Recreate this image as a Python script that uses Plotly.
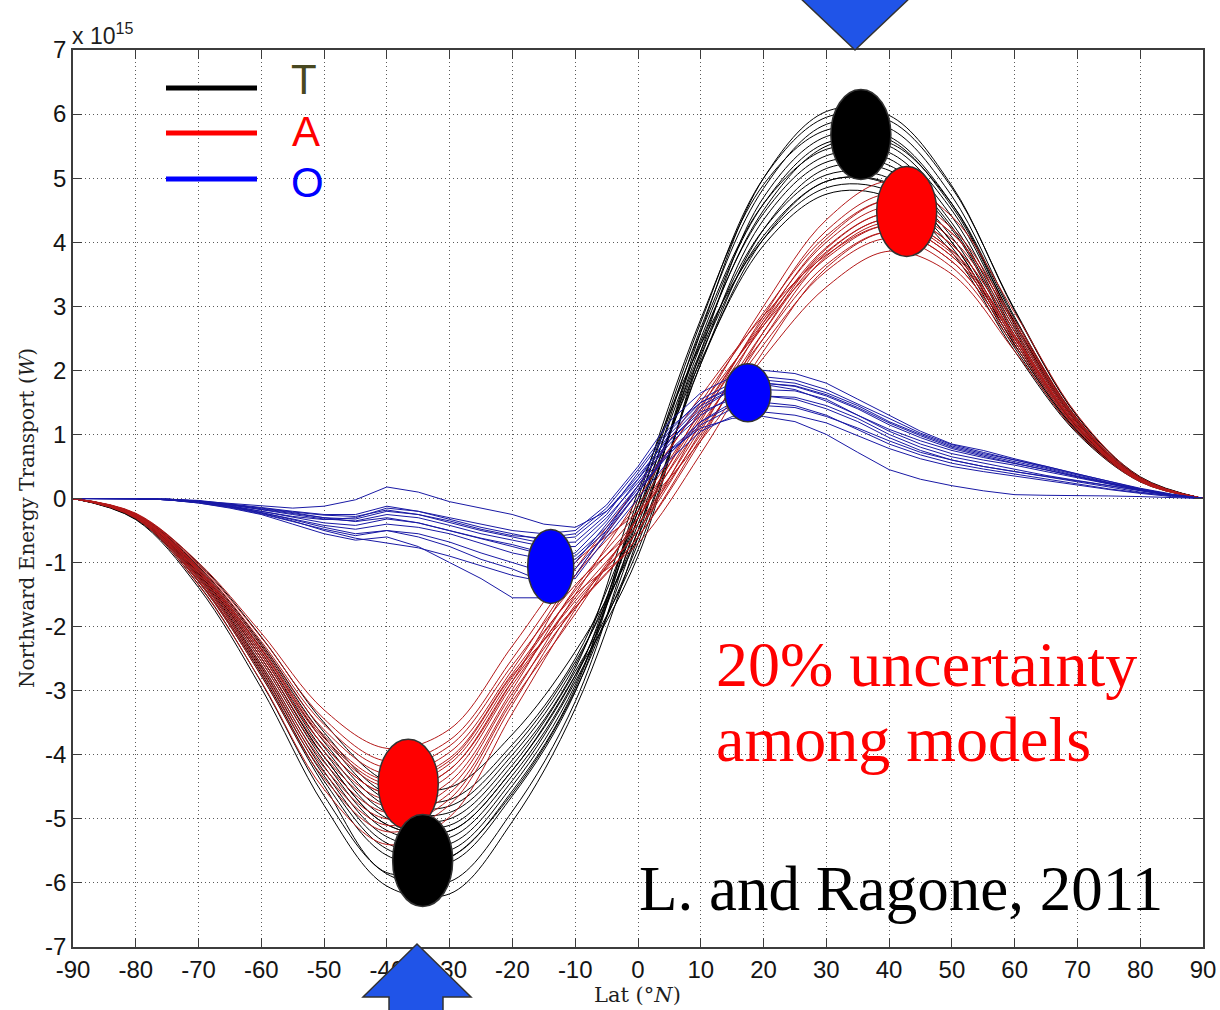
import plotly.graph_objects as go

# Latitude grids (degrees N)
LAT10 = list(range(-90, 91, 10))
LAT5 = list(range(-90, 91, 5))

# Total (T) northward energy transport per model, 1e15 W, sampled every 10 deg
TOTAL = [
    [0, -0.33, -1.39, -2.96, -4.79, -6.05, -6.17, -5.04, -3.28, -0.6, 2.6, 5.0, 6.04, 5.98, 4.88, 2.93, 1.28, 0.34, 0],
    [0, -0.32, -1.34, -2.87, -4.64, -5.86, -5.98, -4.88, -3.17, -0.3, 2.66, 4.84, 5.84, 5.78, 4.72, 2.83, 1.24, 0.32, 0],
    [0, -0.31, -1.30, -2.77, -4.48, -5.84, -5.61, -4.60, -3.0, -0.5, 2.4, 4.5, 5.5, 5.55, 4.6, 2.8, 1.22, 0.31, 0],
    [0, -0.30, -1.25, -2.68, -4.33, -5.47, -5.59, -4.56, -2.96, 0.0, 2.8, 4.9, 5.75, 5.65, 4.6, 2.75, 1.2, 0.32, 0],
    [0, -0.29, -1.23, -2.63, -4.26, -5.38, -5.49, -4.48, -2.91, -0.2, 2.45, 4.45, 5.35, 5.3, 4.3, 2.6, 1.13, 0.3, 0],
    [0, -0.29, -1.21, -2.59, -4.18, -5.28, -5.39, -4.4, -2.86, -0.7, 2.1, 4.2, 5.15, 5.12, 4.2, 2.5, 1.1, 0.29, 0],
    [0, -0.28, -1.19, -2.54, -4.1, -5.18, -5.29, -4.32, -2.81, -0.1, 2.6, 4.6, 5.45, 5.4, 4.4, 2.65, 1.16, 0.3, 0],
    [0, -0.28, -1.17, -2.49, -4.03, -5.09, -5.19, -4.24, -2.76, -0.4, 2.25, 4.1, 4.95, 4.92, 4.0, 2.4, 1.05, 0.28, 0],
    [0, -0.27, -1.14, -2.44, -3.95, -4.99, -5.1, -4.16, -2.7, -0.8, 2.2, 4.35, 5.25, 5.2, 4.24, 2.55, 1.11, 0.29, 0],
    [0, -0.27, -1.12, -2.4, -3.88, -4.9, -5.0, -4.08, -2.65, 0.1, 2.4, 4.05, 4.85, 4.8, 3.92, 2.35, 1.03, 0.27, 0],
    [0, -0.26, -1.1, -2.35, -3.8, -4.8, -4.9, -4.0, -2.6, -0.3, 2.3, 4.2, 5.05, 5.0, 4.08, 2.45, 1.07, 0.28, 0],
    [0, -0.25, -1.08, -2.3, -3.72, -4.7, -4.8, -3.92, -2.55, -0.5, 2.5, 4.6, 5.55, 5.5, 4.5, 2.7, 1.18, 0.31, 0],
    [0, -0.25, -1.06, -2.26, -3.65, -4.61, -4.7, -3.84, -2.5, -0.2, 2.15, 3.95, 4.75, 4.7, 3.84, 2.3, 1.01, 0.26, 0],
    [0, -0.24, -1.01, -2.16, -3.5, -4.42, -4.51, -3.68, -2.39, -0.6, 2.1, 4.05, 4.95, 4.9, 4.0, 2.4, 1.05, 0.28, 0],
    [0, -0.3, -1.28, -2.73, -4.41, -5.57, -5.68, -4.64, -3.02, -0.1, 2.75, 5.0, 5.95, 5.9, 4.85, 2.95, 1.28, 0.33, 0],
    [0, -0.28, -1.17, -2.49, -4.03, -5.09, -5.19, -4.24, -2.76, -0.9, 2.3, 4.7, 5.65, 5.6, 4.56, 2.74, 1.2, 0.31, 0],
]

# Atmospheric (A) transport per model, 1e15 W, every 10 deg
ATMOS = [
    [0, -0.31, -1.35, -2.86, -4.54, -5.4, -4.97, -3.35, -1.73, -0.3, 1.4, 3.0, 4.35, 4.95, 4.4, 2.9, 1.3, 0.33, 0],
    [0, -0.30, -1.3, -2.76, -4.37, -5.2, -4.78, -3.22, -1.66, -0.5, 1.2, 2.85, 4.18, 4.75, 4.22, 2.78, 1.25, 0.31, 0],
    [0, -0.29, -1.25, -2.65, -4.2, -5.0, -4.6, -3.1, -1.5, 0.0, 1.5, 2.9, 4.1, 4.65, 4.14, 2.73, 1.22, 0.31, 0],
    [0, -0.28, -1.23, -2.6, -4.12, -4.9, -4.51, -3.04, -1.7, -0.6, 0.9, 2.6, 3.9, 4.45, 3.96, 2.61, 1.17, 0.29, 0],
    [0, -0.28, -1.2, -2.54, -4.03, -4.8, -4.42, -2.98, -1.4, -0.2, 1.3, 2.8, 4.0, 4.55, 4.05, 2.67, 1.2, 0.3, 0],
    [0, -0.27, -1.18, -2.49, -3.95, -4.7, -4.32, -2.91, -1.55, -0.4, 1.1, 2.6, 3.83, 4.36, 3.87, 2.55, 1.14, 0.29, 0],
    [0, -0.27, -1.15, -2.44, -3.86, -4.6, -4.23, -2.85, -1.2, 0.1, 1.45, 2.7, 3.75, 4.26, 3.78, 2.49, 1.12, 0.28, 0],
    [0, -0.26, -1.13, -2.39, -3.78, -4.5, -4.14, -2.79, -1.44, -0.3, 1.25, 2.7, 3.92, 4.45, 3.96, 2.61, 1.17, 0.29, 0],
    [0, -0.26, -1.1, -2.33, -3.7, -4.4, -4.05, -2.73, -1.5, -0.7, 0.7, 2.3, 3.6, 4.16, 3.7, 2.44, 1.09, 0.27, 0],
    [0, -0.25, -1.08, -2.28, -3.61, -4.3, -3.96, -2.67, -1.2, -0.1, 1.35, 2.75, 3.85, 4.36, 3.87, 2.55, 1.14, 0.29, 0],
    [0, -0.24, -1.05, -2.23, -3.53, -4.2, -3.86, -2.6, -1.35, -0.4, 1.0, 2.4, 3.55, 4.06, 3.61, 2.38, 1.07, 0.27, 0],
    [0, -0.23, -1.0, -2.1, -3.3, -3.9, -3.6, -2.3, -1.0, -0.2, 0.9, 2.2, 3.3, 3.86, 3.5, 2.3, 1.03, 0.26, 0],
    [0, -0.24, -1.03, -2.17, -3.44, -4.1, -3.77, -2.5, -1.1, 0.2, 1.6, 2.85, 3.8, 4.26, 3.78, 2.49, 1.12, 0.28, 0],
    [0, -0.27, -1.15, -2.44, -3.86, -4.6, -4.23, -2.85, -1.6, -0.5, 1.05, 2.75, 4.05, 4.65, 4.14, 2.73, 1.22, 0.31, 0],
    [0, -0.3, -1.28, -2.7, -4.28, -5.1, -4.69, -3.16, -1.8, -0.3, 1.15, 2.5, 3.65, 4.16, 3.7, 2.44, 1.09, 0.27, 0],
    [0, -0.26, -1.11, -2.36, -3.74, -4.45, -4.09, -2.76, -1.7, -0.6, 0.95, 2.5, 3.78, 4.31, 3.83, 2.52, 1.13, 0.28, 0],
]

# Oceanic (O) transport per model, 1e15 W, every 5 deg
OCEAN = [
    [0, 0, 0, -0.02, -0.06, -0.12, -0.2, -0.28, -0.33, -0.3, -0.15, -0.2, -0.3, -0.4, -0.5, -0.55, -0.5, -0.1, 0.5, 1.2, 1.65, 1.9, 2.0, 1.95, 1.8, 1.55, 1.3, 1.05, 0.85, 0.75, 0.62, 0.5, 0.38, 0.26, 0.15, 0.06, 0],
    [0, 0, 0, -0.01, -0.04, -0.08, -0.12, -0.15, -0.12, -0.02, 0.18, 0.1, -0.05, -0.15, -0.25, -0.4, -0.45, -0.2, 0.3, 0.9, 1.4, 1.7, 1.85, 1.8, 1.65, 1.45, 1.2, 1.0, 0.82, 0.7, 0.6, 0.5, 0.38, 0.27, 0.16, 0.07, 0],
    [0, 0, 0, -0.02, -0.07, -0.15, -0.25, -0.4, -0.55, -0.65, -0.6, -0.75, -1.0, -1.25, -1.55, -1.55, -1.2, -0.5, 0.2, 0.9, 1.35, 1.55, 1.6, 1.55, 1.4, 1.2, 0.95, 0.75, 0.6, 0.5, 0.42, 0.35, 0.28, 0.2, 0.12, 0.05, 0],
    [0, 0, 0, -0.02, -0.06, -0.13, -0.22, -0.33, -0.45, -0.55, -0.5, -0.6, -0.75, -0.95, -1.1, -1.3, -1.0, -0.4, 0.2, 0.75, 1.1, 1.25, 1.28, 1.2, 1.0, 0.72, 0.45, 0.3, 0.2, 0.12, 0.06, 0.05, 0.05, 0.04, 0.03, 0.02, 0],
    [0, 0, 0, -0.02, -0.05, -0.1, -0.18, -0.25, -0.32, -0.35, -0.25, -0.3, -0.42, -0.55, -0.65, -0.75, -0.75, -0.3, 0.25, 0.85, 1.3, 1.6, 1.7, 1.68, 1.55, 1.3, 1.05, 0.85, 0.7, 0.6, 0.52, 0.42, 0.32, 0.22, 0.13, 0.05, 0],
    [0, 0, 0, -0.01, -0.04, -0.09, -0.16, -0.22, -0.3, -0.36, -0.3, -0.38, -0.5, -0.62, -0.72, -0.85, -0.9, -0.45, 0.15, 0.7, 1.2, 1.5, 1.6, 1.58, 1.45, 1.25, 1.0, 0.8, 0.65, 0.55, 0.45, 0.36, 0.28, 0.2, 0.12, 0.05, 0],
    [0, 0, 0, -0.02, -0.06, -0.12, -0.22, -0.32, -0.42, -0.48, -0.4, -0.45, -0.55, -0.7, -0.85, -0.95, -0.85, -0.35, 0.3, 1.0, 1.5, 1.75, 1.8, 1.75, 1.6, 1.4, 1.15, 0.95, 0.78, 0.66, 0.55, 0.44, 0.33, 0.23, 0.13, 0.05, 0],
    [0, 0, 0, -0.01, -0.03, -0.08, -0.14, -0.2, -0.25, -0.25, -0.12, -0.2, -0.32, -0.45, -0.55, -0.65, -0.6, -0.2, 0.35, 0.95, 1.45, 1.7, 1.78, 1.7, 1.52, 1.3, 1.08, 0.9, 0.75, 0.64, 0.55, 0.45, 0.34, 0.24, 0.14, 0.06, 0],
    [0, 0, 0, -0.02, -0.07, -0.14, -0.24, -0.36, -0.48, -0.58, -0.5, -0.55, -0.68, -0.85, -1.0, -1.15, -1.1, -0.55, 0.1, 0.75, 1.2, 1.45, 1.5, 1.45, 1.3, 1.08, 0.85, 0.68, 0.55, 0.46, 0.38, 0.3, 0.22, 0.15, 0.09, 0.04, 0],
    [0, 0, 0, -0.01, -0.05, -0.1, -0.17, -0.24, -0.3, -0.32, -0.2, -0.25, -0.38, -0.5, -0.6, -0.7, -0.68, -0.25, 0.4, 1.05, 1.55, 1.8, 1.9, 1.85, 1.7, 1.48, 1.25, 1.02, 0.84, 0.72, 0.6, 0.48, 0.36, 0.25, 0.15, 0.06, 0],
    [0, 0, 0, -0.02, -0.05, -0.11, -0.2, -0.3, -0.38, -0.42, -0.32, -0.38, -0.5, -0.62, -0.75, -0.88, -0.95, -0.5, 0.1, 0.7, 1.15, 1.4, 1.45, 1.42, 1.28, 1.1, 0.9, 0.72, 0.6, 0.5, 0.42, 0.34, 0.26, 0.18, 0.1, 0.04, 0],
    [0, 0, 0, -0.01, -0.04, -0.09, -0.15, -0.21, -0.26, -0.28, -0.18, -0.25, -0.35, -0.48, -0.58, -0.62, -0.55, -0.15, 0.45, 1.1, 1.5, 1.72, 1.8, 1.76, 1.62, 1.42, 1.18, 0.98, 0.8, 0.68, 0.58, 0.47, 0.35, 0.24, 0.14, 0.06, 0],
    [0, 0, 0, -0.02, -0.06, -0.13, -0.23, -0.35, -0.5, -0.62, -0.7, -0.77, -0.9, -1.05, -1.2, -1.3, -1.25, -0.6, 0.0, 0.6, 1.05, 1.28, 1.35, 1.3, 1.18, 0.98, 0.78, 0.62, 0.5, 0.42, 0.35, 0.28, 0.2, 0.14, 0.08, 0.03, 0],
]

# Highlighted extrema: (latitude, transport in 1e15 W)
T_PEAKS = [(35.5, 5.68), (-34.3, -5.65)]
A_PEAKS = [(42.8, 4.48), (-36.6, -4.46)]
O_PEAKS = [(17.5, 1.65), (-13.9, -1.06)]

X_TICKS = list(range(-90, 91, 10))
Y_TICKS = list(range(-7, 8, 1))

# ---- page geometry (pixels) ----
W, H = 1220, 1010
PL, PR, PT, PB = 73, 1203, 50, 947
DEG_PX = 180.0 / (PR - PL)
VAL_PX = 14.0 / (PB - PT)


def xp(px):
    return (px - PL) / (PR - PL)


def yp(py):
    return (PB - py) / (PB - PT)


BLACK = "rgb(0,0,0)"
RED_LINE = "rgb(180,25,25)"
BLUE_LINE = "rgb(25,25,165)"
ARROW_BLUE = "rgb(32,84,232)"
OUTLINE = "rgb(50,50,50)"

fig = go.Figure()

for row in TOTAL:
    fig.add_trace(go.Scatter(x=LAT10, y=row, mode="lines",
                             line=dict(color=BLACK, width=1, shape="spline", smoothing=1.0),
                             hoverinfo="skip", showlegend=False))
for row in ATMOS:
    fig.add_trace(go.Scatter(x=LAT10, y=row, mode="lines",
                             line=dict(color=RED_LINE, width=1, shape="spline", smoothing=1.0),
                             hoverinfo="skip", showlegend=False))
for row in OCEAN:
    fig.add_trace(go.Scatter(x=LAT5, y=row, mode="lines",
                             line=dict(color=BLUE_LINE, width=1),
                             hoverinfo="skip", showlegend=False))

shapes = []


def ellipse(lat, val, rx_px, ry_px, fill):
    return dict(type="circle", xref="x", yref="y", layer="above",
                x0=lat - rx_px * DEG_PX, x1=lat + rx_px * DEG_PX,
                y0=val - ry_px * VAL_PX, y1=val + ry_px * VAL_PX,
                fillcolor=fill, line=dict(color=OUTLINE, width=1.5))


shapes.append(ellipse(*A_PEAKS[1], 30, 45, "rgb(255,0,0)"))
shapes.append(ellipse(*T_PEAKS[1], 30, 46, "rgb(0,0,0)"))
shapes.append(ellipse(*T_PEAKS[0], 30, 45, "rgb(0,0,0)"))
shapes.append(ellipse(*A_PEAKS[0], 30, 45, "rgb(255,0,0)"))
shapes.append(ellipse(*O_PEAKS[0], 23, 29, "rgb(0,0,255)"))
shapes.append(ellipse(*O_PEAKS[1], 23, 37, "rgb(0,0,255)"))

# legend swatches
for py, col in [(88, "black"), (133, "rgb(255,0,0)"), (179, "rgb(0,0,255)")]:
    shapes.append(dict(type="line", xref="paper", yref="paper", layer="above",
                       x0=xp(166), x1=xp(257), y0=yp(py), y1=yp(py),
                       line=dict(color=col, width=5)))


def path(points):
    s = "M " + " L ".join(f"{xp(a):.5f},{yp(b):.5f}" for a, b in points) + " Z"
    return s


# block arrows pointing at the extrema
shapes.append(dict(type="path", xref="paper", yref="paper", layer="above",
                   path=path([(797, -5), (913, -5), (855, 50)]),
                   fillcolor=ARROW_BLUE, line=dict(color=OUTLINE, width=1.5)))
shapes.append(dict(type="path", xref="paper", yref="paper", layer="above",
                   path=path([(417, 944), (471, 997), (443, 997), (443, 1015),
                              (389, 1015), (389, 997), (363, 997)]),
                   fillcolor=ARROW_BLUE, line=dict(color=OUTLINE, width=1.5)))

annotations = []


def text(px, py, s, size, color, family, xanchor="center", angle=0):
    annotations.append(dict(x=xp(px), y=yp(py), xref="paper", yref="paper",
                            text=s, showarrow=False, xanchor=xanchor, yanchor="middle",
                            textangle=angle,
                            font=dict(size=size, color=color, family=family)))


SANS = "Liberation Sans, Arial, sans-serif"
SERIF = "Liberation Serif, Times New Roman, serif"
MATH = "DejaVu Serif, serif"

text(304, 80, "T", 42, "rgb(72,72,32)", SANS)
text(306, 131, "A", 42, "rgb(255,0,0)", SANS)
text(307, 182, "O", 42, "rgb(0,0,255)", SANS)

text(714, 664, "20% uncertainty", 64, "rgb(255,0,0)", SERIF, xanchor="left")
text(714, 739, "among models", 64, "rgb(255,0,0)", SERIF, xanchor="left")
text(637, 889, "L. and Ragone, 2011", 63, "black", SERIF, xanchor="left")

text(70, 34, "x 10<sup>15</sup>", 23, "rgb(30,30,30)", SANS, xanchor="left")
text(637, 995, "Lat (°<i>N</i>)", 21, "rgb(30,30,30)", MATH)
text(27, 518, "Northward Energy Transport (<i>W</i>)", 20, "rgb(30,30,30)", MATH, angle=-90)

axis_common = dict(
    automargin=False,
    showline=True, linecolor="rgb(60,60,60)", linewidth=1.5, mirror="ticks",
    ticks="inside", ticklen=9, tickwidth=1.2, tickcolor="rgb(60,60,60)",
    showgrid=True, gridcolor="rgb(90,90,90)", gridwidth=1, griddash="1px,3px",
    zeroline=False, tickfont=dict(family=SANS, size=24, color="rgb(20,20,20)"),
)

fig.update_layout(
    width=W, height=H,
    margin=dict(l=PL, r=W - PR, t=PT, b=H - PB, autoexpand=False),
    paper_bgcolor="white", plot_bgcolor="white",
    xaxis=dict(range=[-90, 90], tickvals=X_TICKS, ticktext=[str(v) for v in X_TICKS], **axis_common),
    yaxis=dict(range=[-7, 7], tickvals=Y_TICKS, ticktext=[str(v) for v in Y_TICKS], **axis_common),
    shapes=shapes, annotations=annotations, showlegend=False,
)

fig.write_html("out.html")
